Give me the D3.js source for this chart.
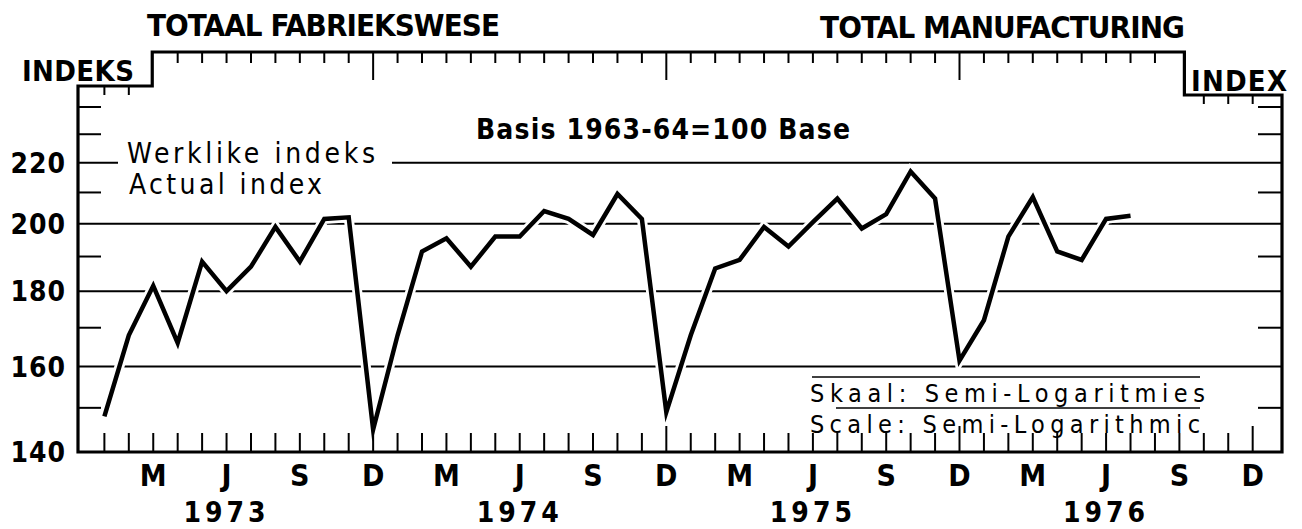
<!DOCTYPE html>
<html>
<head>
<meta charset="utf-8">
<script src="https://cdn.jsdelivr.net/npm/d3@7"></script>
<style>
body{margin:0;background:#fff;}
svg{display:block;}
</style>
</head>
<body>
<script>
//data - monthly index, Jan 1973 to Jul 1976
var monthIndex = d3.range(0,43);
var actualIndex = [148,168,181.5,166,188.5,180,187,199,188.5,201.5,202,145,
    168,191.5,195.5,187,196,196,204,201.5,196.5,209.5,201.5,149,
    168,186.5,189,199,193,200.5,208,198.5,203,217,208,161.5,
    172,196,208.5,191.5,189,201.5,202.5];
var quarterLabels = ["M","J","S","D"];
var yearLabels = ["1973","1974","1975","1976"];
var gridValues = [160,180,200,220];
var minorValues = [150,170,190,210,230,240];
var yLabels = [140,160,180,200,220];

//globals
var width=1302;
var height=529;
var plotLeft=78;
var plotRight=1282;
var plotBottom=452;
var topLow=86;
var topHigh=52;
var topRight=95;
var font="'DejaVu Sans Condensed','DejaVu Sans',sans-serif";

var x = d3.scaleLinear().domain([-1.08,48.2]).range([plotLeft,plotRight]);
var y = d3.scaleLog().domain([140,248]).range([plotBottom,topLow]);

//create main svg element
var svgDoc = d3.select("body").append("svg")
    .attr("width",width)
    .attr("height",height);

//gridlines
svgDoc.append("g").selectAll("line")
    .data(gridValues)
    .enter()
    .append("line")
    .attr("x1",function(d){return d==220 ? 392 : plotLeft})
    .attr("x2",plotRight)
    .attr("y1",function(d){return y(d)})
    .attr("y2",function(d){return y(d)})
    .attr("stroke","#000")
    .attr("stroke-width",2);

//little bit of 220 line before the legend text
svgDoc.append("line")
    .attr("x1",plotLeft).attr("x2",118)
    .attr("y1",y(220)).attr("y2",y(220))
    .attr("stroke","#000").attr("stroke-width",2);

//minor ticks left and right
var minor = svgDoc.append("g");
minor.selectAll(".tl")
    .data(minorValues)
    .enter()
    .append("line")
    .attr("x1",plotLeft)
    .attr("x2",plotLeft+23)
    .attr("y1",function(d){return y(d)})
    .attr("y2",function(d){return y(d)});
minor.selectAll(".tr")
    .data(minorValues)
    .enter()
    .append("line")
    .attr("x1",plotRight-24)
    .attr("x2",plotRight)
    .attr("y1",function(d){return y(d)})
    .attr("y2",function(d){return y(d)});
minor.selectAll("line").attr("stroke","#000").attr("stroke-width",2);

//month ticks along bottom
var months = d3.range(0,48);
svgDoc.append("g").selectAll("line")
    .data(months)
    .enter()
    .append("line")
    .attr("x1",function(d){return x(d)})
    .attr("x2",function(d){return x(d)})
    .attr("y1",plotBottom)
    .attr("y2",function(d){return d%12==11 ? plotBottom-26 : plotBottom-19})
    .attr("stroke","#000")
    .attr("stroke-width",2);

//month ticks along the stepped top
var topTicks = months.filter(function(d){return d!=2 && d!=44});
svgDoc.append("g").selectAll("line")
    .data(topTicks)
    .enter()
    .append("line")
    .attr("x1",function(d){return x(d)})
    .attr("x2",function(d){return x(d)})
    .attr("y1",function(d){
        if(d<2) return topLow;
        if(d>44) return topRight;
        return topHigh;
    })
    .attr("y2",function(d){
        if(d<2) return topLow+9;
        if(d>44) return topRight+9;
        return d%12==11 ? topHigh+28 : topHigh+11;
    })
    .attr("stroke","#000")
    .attr("stroke-width",2);

//frame with the steps for the axis titles
var stepL = x(2)-1;
var stepR = x(44)+5;
svgDoc.append("path")
    .attr("d","M"+plotLeft+","+plotBottom+" L"+plotLeft+","+topLow+" L"+stepL+","+topLow+
        " L"+stepL+","+topHigh+" L"+stepR+","+topHigh+" L"+stepR+","+topRight+
        " L"+plotRight+","+topRight+" L"+plotRight+","+plotBottom+" Z")
    .attr("fill","none")
    .attr("stroke","#000")
    .attr("stroke-width",3.2)
    .attr("stroke-linejoin","miter");

//data line, white casing first so the grid breaks where it crosses
var line = d3.line()
    .x(function(d,i){return x(monthIndex[i])})
    .y(function(d){return y(d)});
svgDoc.append("path")
    .datum(actualIndex)
    .attr("d",line)
    .attr("fill","none")
    .attr("stroke","#fff")
    .attr("stroke-width",10);
svgDoc.append("path")
    .datum(actualIndex)
    .attr("d",line)
    .attr("fill","none")
    .attr("stroke","#000")
    .attr("stroke-width",4.5)
    .attr("stroke-linejoin","miter")
    .attr("stroke-miterlimit",6);

//y labels
svgDoc.append("g").selectAll("text")
    .data(yLabels)
    .enter()
    .append("text")
    .attr("x",66)
    .attr("y",function(d){return y(d)+10})
    .attr("text-anchor","end")
    .attr("font-family",font)
    .attr("font-weight","bold")
    .attr("font-size",28)
    .attr("letter-spacing",1)
    .text(function(d){return d});

//quarter labels M J S D
svgDoc.append("g").selectAll("text")
    .data(months.filter(function(d){return d%3==2}))
    .enter()
    .append("text")
    .attr("x",function(d){return x(d)})
    .attr("y",486)
    .attr("text-anchor","middle")
    .attr("font-family",font)
    .attr("font-weight","bold")
    .attr("font-size",30)
    .text(function(d){return quarterLabels[(d-2)/3%4]});

//year labels under June
svgDoc.append("g").selectAll("text")
    .data(yearLabels)
    .enter()
    .append("text")
    .attr("x",function(d,i){return x(5+12*i)})
    .attr("y",522)
    .attr("text-anchor","middle")
    .attr("font-family",font)
    .attr("font-weight","bold")
    .attr("font-size",28)
    .attr("letter-spacing",4)
    .text(function(d){return d});

//titles and notes
function addText(t,x0,y0,len,size,weight){
    svgDoc.append("text")
        .attr("x",x0)
        .attr("y",y0)
        .attr("font-family",font)
        .attr("font-weight",weight)
        .attr("font-size",size)
        .attr("textLength",len)
        .attr("lengthAdjust","spacing")
        .text(t);
}
addText("TOTAAL FABRIEKSWESE",147,36,353,31,"bold");
addText("TOTAL MANUFACTURING",820,38,365,31,"bold");
addText("INDEKS",22,81,112,29,"bold");
addText("INDEX",1191,91,96,29,"bold");
addText("Werklike indeks",127,163,248,28,"normal");
addText("Actual index",129,194,193,28,"normal");
addText("Basis 1963-64=100 Base",476,139,374,28,"bold");
addText("Skaal: Semi-Logaritmies",810,402,395,25,"normal");
addText("Scale: Semi-Logarithmic",810,433,390,25,"normal");

//rule lines round the scale note
svgDoc.append("line")
    .attr("x1",812).attr("x2",1200)
    .attr("y1",377).attr("y2",377)
    .attr("stroke","#000").attr("stroke-width",1.5);
svgDoc.append("line")
    .attr("x1",836).attr("x2",1200)
    .attr("y1",408).attr("y2",408)
    .attr("stroke","#000").attr("stroke-width",1.5);
</script>
</body>
</html>
